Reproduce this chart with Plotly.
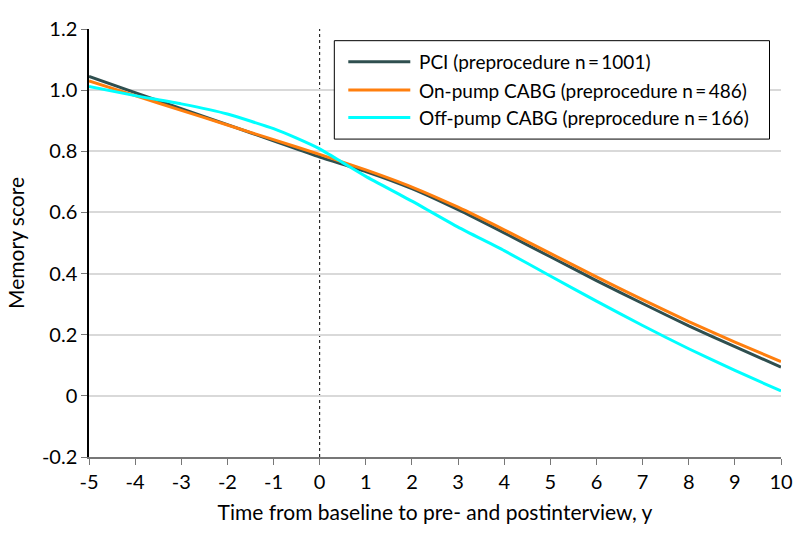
import plotly.graph_objects as go

# time from baseline (years) at which the curves were read
x_pci = [-5, -4, -3, -2, -1, 0, 1, 2, 3, 4, 5, 6, 7, 8, 9, 10]
y_pci = [1.045, 0.992, 0.939, 0.887, 0.834, 0.781, 0.734, 0.678, 0.609, 0.533,
         0.455, 0.377, 0.302, 0.229, 0.161, 0.094]

x_on = [-5, -4, -3, -2, -1, 0, 1, 2, 3, 4, 5, 6, 7, 8, 9, 10]
y_on = [1.030, 0.982, 0.934, 0.886, 0.838, 0.790, 0.739, 0.683, 0.617, 0.543,
        0.466, 0.389, 0.315, 0.243, 0.176, 0.112]

x_off = [-5, -4, -3, -2, -1, -0.5, 0, 0.5, 1, 2, 3, 4, 5, 6, 7, 8, 9, 10]
y_off = [1.012, 0.982, 0.955, 0.922, 0.874, 0.843, 0.808, 0.763, 0.718, 0.637,
         0.552, 0.475, 0.392, 0.310, 0.230, 0.154, 0.083, 0.016]

names = ["PCI (preprocedure n\u2009=\u20091001)",
         "On-pump CABG (preprocedure n\u2009=\u2009486)",
         "Off-pump CABG (preprocedure n\u2009=\u2009166)"]
colors = ["#2f4f4f", "#ff7f0e", "#00ffff"]

x_ticks = list(range(-5, 11))
x_labels = [str(v) for v in x_ticks]
y_ticks = [-0.2, 0, 0.2, 0.4, 0.6, 0.8, 1.0, 1.2]
y_labels = ["-0.2", "0", "0.2", "0.4", "0.6", "0.8", "1.0", "1.2"]

FONT = "Lato"

fig = go.Figure()
for xs, ys, nm, c in zip([x_pci, x_on, x_off], [y_pci, y_on, y_off], names, colors):
    fig.add_trace(go.Scatter(x=xs, y=ys, mode="lines", name=nm,
                             line=dict(color=c, width=3, shape="spline", smoothing=0.5),
                             showlegend=False))

# dotted line at baseline
fig.add_shape(type="line", x0=0, x1=0, y0=-0.2, y1=1.2, xref="x", yref="y",
              line=dict(color="black", width=1, dash="dot"), layer="below")

# legend drawn by hand so the box matches the reference
fig.add_shape(type="rect", xref="paper", yref="paper", x0=0.3545, x1=0.9834,
              y0=0.7428, y1=0.9727, line=dict(color="black", width=1),
              fillcolor="white")
rows = [0.9236, 0.8574, 0.7935]
for nm, c, ry in zip(names, colors, rows):
    fig.add_shape(type="line", xref="paper", yref="paper", x0=0.3747, x1=0.4643,
                  y0=ry, y1=ry, line=dict(color=c, width=3))
    fig.add_annotation(x=0.4740, y=ry, xref="paper", yref="paper", text=nm,
                       showarrow=False, xanchor="left", yanchor="middle",
                       font=dict(family=FONT, size=19, color="black"))

fig.update_layout(
    width=794, height=542,
    margin=dict(l=89, r=13, t=29, b=85),
    plot_bgcolor="white", paper_bgcolor="white",
    font=dict(family=FONT, size=21, color="black"),
)
fig.update_xaxes(range=[-5, 10], tickvals=x_ticks, ticktext=x_labels,
                 showgrid=False, zeroline=False, automargin=False,
                 showline=True, linecolor="#777777", linewidth=1.5,
                 ticks="outside", ticklen=6, tickcolor="#777777",
                 title=dict(text="Time from baseline to pre- and postinterview, y",
                            font=dict(size=21), standoff=14),
                 tickfont=dict(size=20))
fig.update_yaxes(range=[-0.2, 1.2], tickvals=y_ticks, ticktext=y_labels,
                 showgrid=True, gridcolor="#d9d9d9", gridwidth=1.5, zeroline=False,
                 automargin=False,
                 showline=True, linecolor="black", linewidth=1.5,
                 ticks="outside", ticklen=6, tickcolor="#777777", ticklabelstandoff=0,
                 title=dict(text="Memory score", font=dict(size=21), standoff=12),
                 tickfont=dict(size=20))

# drop the default page margin so the 794x542 figure fills the window
fig.write_html("out.html", config={"displayModeBar": False},
               post_script="document.body.style.margin='0';document.body.style.overflow='hidden';")
